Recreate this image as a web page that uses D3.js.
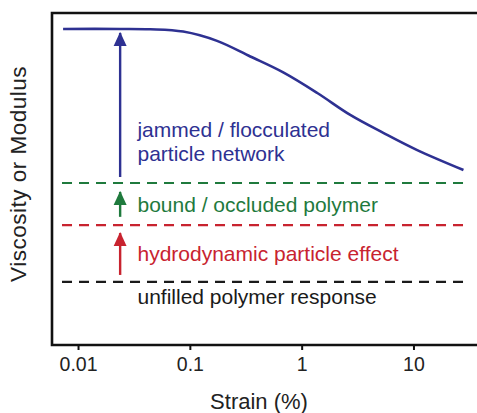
<!DOCTYPE html>
<html>
<head>
<meta charset="utf-8">
<script src="https://cdn.jsdelivr.net/npm/d3@7"></script>
<style>
  body { margin: 0; background: #fff; }
  text { font-family: "Liberation Sans", Arial, Helvetica, sans-serif; }
</style>
</head>
<body>
<svg id="chart"></svg>
<script>
// strain (%) and relative viscosity/modulus
var strain = [0.00735, 0.0238, 0.0442, 0.0871, 0.175, 0.347, 0.684, 1.38, 2.72, 5.37, 10.8, 28];
var modulus = [95.2, 95.2, 95.1, 94.4, 91.6, 86.9, 82.1, 75.9, 69.3, 63.9, 58.7, 52.7];

var tickValues = [0.01, 0.1, 1, 10];
var tickLabels = ["0.01", "0.1", "1", "10"];

// horizontal reference levels
var levelNames = ["bound / occluded polymer", "hydrodynamic particle effect", "unfilled polymer response"];
var levelValues = [48.8, 36.1, 19.0];
var levelColors = ["#1f7a3d", "#c8232f", "#1a1a1a"];
var levelSpan = [0.00719, 28];

// arrows: [from, to] in y units, all at the same strain
var arrowStrain = 0.0238;
var arrowFrom = [50.6, 38.6, 21.1];
var arrowTo = [94.0, 46.1, 33.7];
var arrowColors = ["#2e3192", "#1f7a3d", "#c8232f"];

var blue = "#2e3192";

var width = 477, height = 413;
var mLeft = 52, mTop = 13, mBottom = 345;

var svg = d3.select("#chart")
    .attr("width", width)
    .attr("height", height);

var x = d3.scaleLog()
    .domain([0.00585, 37])
    .range([mLeft, 477]);

var y = d3.scaleLinear()
    .domain([0, 100])
    .range([mBottom, mTop]);

// frame (right edge falls outside the picture)
svg.append("path")
    .attr("d", "M490," + mTop + "H" + mLeft + "V" + mBottom + "H490")
    .attr("fill", "none")
    .attr("stroke", "#111")
    .attr("stroke-width", 2.6);

// x axis ticks
var xAxis = d3.axisBottom(x)
    .tickValues(tickValues)
    .tickSize(5)
    .tickFormat(function(d, i) { return tickLabels[i]; });

var gx = svg.append("g")
    .attr("transform", "translate(0," + mBottom + ")")
    .call(xAxis);
gx.select(".domain").remove();
gx.selectAll(".tick line").attr("stroke", "#111").attr("stroke-width", 2);
gx.selectAll(".tick text")
    .attr("y", 26)
    .attr("dy", 0)
    .attr("fill", "#222")
    .style("font-size", "19.5px")
    .style("font-family", "'Liberation Sans', Arial, sans-serif");

// axis titles
svg.append("text")
    .attr("x", 259)
    .attr("y", 409)
    .attr("text-anchor", "middle")
    .attr("fill", "#222")
    .style("font-size", "22px")
    .text("Strain (%)");

svg.append("text")
    .attr("transform", "translate(26,174) rotate(-90)")
    .attr("text-anchor", "middle")
    .attr("fill", "#222")
    .style("font-size", "22.5px")
    .style("letter-spacing", "0.5px")
    .text("Viscosity or Modulus");

// reference dashed lines
svg.append("g").selectAll("line")
    .data(levelValues)
    .enter()
    .append("line")
    .attr("x1", x(levelSpan[0]))
    .attr("x2", x(levelSpan[1]))
    .attr("y1", function(d) { return y(d); })
    .attr("y2", function(d) { return y(d); })
    .attr("stroke", function(d, i) { return levelColors[i]; })
    .attr("stroke-width", 2.2)
    .attr("stroke-dasharray", "10,7");

// curve
var line = d3.line()
    .x(function(d, i) { return x(strain[i]); })
    .y(function(d) { return y(d); })
    .curve(d3.curveCatmullRom);

svg.append("path")
    .datum(modulus)
    .attr("d", line)
    .attr("fill", "none")
    .attr("stroke", blue)
    .attr("stroke-width", 2.6);

// arrows
var defs = svg.append("defs");
arrowColors.forEach(function(c, i) {
    defs.append("marker")
        .attr("id", "head" + i)
        .attr("viewBox", "0 0 14 14")
        .attr("refX", 13)
        .attr("refY", 7)
        .attr("markerUnits", "userSpaceOnUse")
        .attr("markerWidth", 14)
        .attr("markerHeight", 14)
        .attr("orient", "auto")
        .append("path")
        .attr("d", "M0,0.5L14,7L0,13.5Z")
        .attr("fill", c);
});

svg.append("g").selectAll("line")
    .data(arrowFrom)
    .enter()
    .append("line")
    .attr("x1", x(arrowStrain))
    .attr("x2", x(arrowStrain))
    .attr("y1", function(d) { return y(d); })
    .attr("y2", function(d, i) { return y(arrowTo[i]); })
    .attr("stroke", function(d, i) { return arrowColors[i]; })
    .attr("stroke-width", 2.4)
    .attr("marker-end", function(d, i) { return "url(#head" + i + ")"; });

// labels
var labelStrain = 0.034;
var labelText = ["jammed / flocculated", "particle network"].concat(levelNames);
var labelValue = [62.8, 55.4, 40.1, 25.3, 12.3];
var labelColor = [blue, blue].concat(levelColors);

svg.append("g").selectAll("text")
    .data(labelText)
    .enter()
    .append("text")
    .attr("x", x(labelStrain))
    .attr("y", function(d, i) { return y(labelValue[i]); })
    .attr("fill", function(d, i) { return labelColor[i]; })
    .style("font-size", "21px")
    .text(function(d) { return d; });
</script>
</body>
</html>
